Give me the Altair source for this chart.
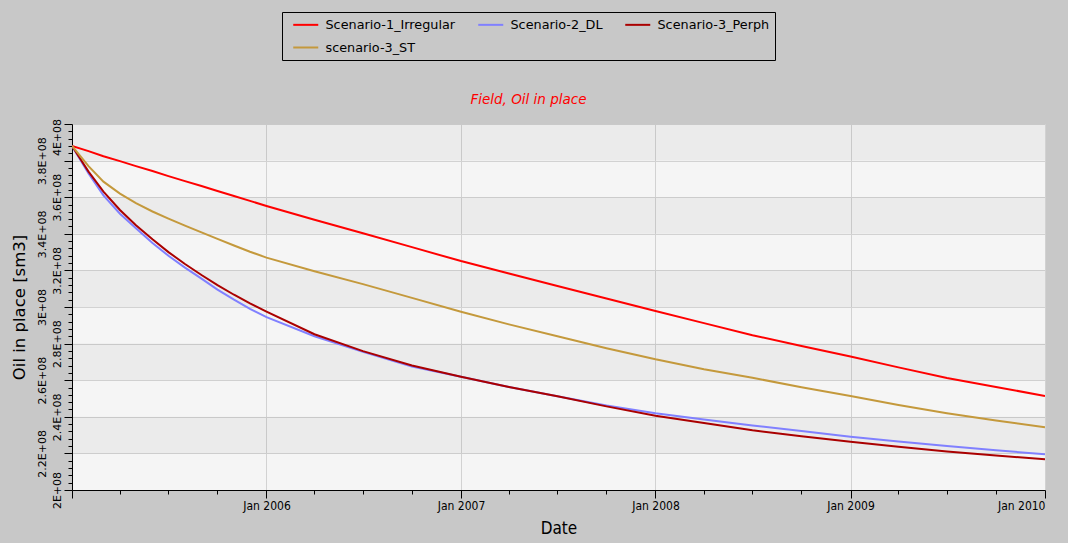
import altair as alt
import pandas as pd

# ---------------- data (values in millions of sm3) ----------------
dates = [
    "2005-01-01", "2005-02-01", "2005-03-01", "2005-04-01", "2005-05-01", "2005-06-01",
    "2005-07-01", "2005-08-01", "2005-09-01", "2005-10-01", "2005-11-01", "2005-12-01",
    "2006-01-01", "2006-04-01", "2006-07-01", "2006-10-01",
    "2007-01-01", "2007-04-01", "2007-07-01", "2007-10-01",
    "2008-01-01", "2008-04-01", "2008-07-01", "2008-10-01",
    "2009-01-01", "2009-04-01", "2009-07-01", "2009-10-01",
    "2010-01-01",
]
scenario_1_irregular = [388.0, 385.2, 382.4, 379.7, 377.0, 374.3, 371.5, 368.8, 366.1, 363.4, 360.7, 358.0,
                        355.2, 347.7, 340.3, 332.7, 325.1, 318.3, 311.5, 304.6, 297.8, 291.2, 284.6, 278.7,
                        272.9, 267.0, 261.2, 256.3, 251.4]
scenario_2_dl = [388.0, 373.0, 361.0, 351.0, 343.0, 335.0, 328.0, 321.5, 315.5, 309.5, 304.0, 299.0,
                 294.5, 284.0, 275.5, 267.5, 261.9, 256.3, 251.2, 246.2, 241.9, 238.5, 235.3, 232.2,
                 229.1, 226.5, 224.0, 221.7, 219.5]
scenario_3_perph = [388.0, 374.0, 363.0, 353.0, 344.7, 337.0, 330.0, 323.5, 317.5, 312.0, 306.7, 302.0,
                    297.5, 285.1, 275.9, 268.0, 261.9, 256.3, 251.2, 245.7, 240.6, 236.6, 232.6, 229.4,
                    226.4, 223.6, 221.0, 218.8, 216.8]
scenario_3_st = [388.0, 377.0, 368.5, 362.0, 356.8, 352.2, 348.3, 344.5, 340.8, 337.2, 333.6, 330.2,
                 327.0, 319.5, 312.5, 305.0, 297.4, 290.5, 284.0, 277.5, 271.4, 266.0, 261.3, 256.2,
                 251.4, 246.5, 242.0, 238.0, 234.3]

series_names = ["Scenario-1_Irregular", "Scenario-2_DL", "Scenario-3_Perph", "scenario-3_ST"]
series_colors = ["#ff0000", "#8080ff", "#aa0000", "#c4993c"]
series_values = [scenario_1_irregular, scenario_2_dl, scenario_3_perph, scenario_3_st]

y_major = [200000000, 220000000, 240000000, 260000000, 280000000, 300000000,
           320000000, 340000000, 360000000, 380000000, 400000000]
y_major_labels = ["2E+08", "2.2E+08", "2.4E+08", "2.6E+08", "2.8E+08", "3E+08",
                  "3.2E+08", "3.4E+08", "3.6E+08", "3.8E+08", "4E+08"]
y_ticks = list(range(200000000, 400000001, 4000000))

x_domain = ["2005-01-01", "2010-01-01"]
x_major_years = [2006, 2007, 2008, 2009, 2010]
x_major_labels = ["Jan 2006", "Jan 2007", "Jan 2008", "Jan 2009", "Jan 2010"]
x_ticks = [f"{y}-{m:02d}-01" for y in range(2005, 2010) for m in (1, 4, 7, 10)] + ["2010-01-01"]

band_lo = [220000000, 260000000, 300000000, 340000000, 380000000]
band_hi = [240000000, 280000000, 320000000, 360000000, 400000000]

# ---------------- tables ----------------
rows = []
for name, vals in zip(series_names, series_values):
    for d, v in zip(dates, vals):
        rows.append({"date": d, "value": v * 1e6, "series": name})
lines_df = pd.DataFrame(rows)

bands_df = pd.DataFrame({"lo": band_lo, "hi": band_hi, "x0": x_domain[0], "x1": x_domain[1]})

x_tick_ms = [int(pd.Timestamp(t, tz="UTC").timestamp() * 1000) for t in x_ticks]

y_label_expr = (
    f"indexof({y_major}, datum.value) >= 0 ? "
    f"{y_major_labels}[indexof({y_major}, datum.value)] : ''"
)
x_label_expr = (
    f"utcmonth(datum.value) == 0 && indexof({x_major_years}, utcyear(datum.value)) >= 0 ? "
    f"{x_major_labels}[indexof({x_major_years}, utcyear(datum.value))] : ''"
)

y_axis = alt.Axis(
    title="Oil in place [sm3]",
    values=y_ticks,
    labelExpr=y_label_expr,
    labelAngle=270,
    labelOverlap=False,
    labelFont="DejaVu Sans",
    labelFontSize=11,
    labelColor="black",
    labelOffset={"condition": {"test": f"datum.value == {y_major[-1]}", "value": 13}, "value": 0},
    tickSize={"condition": {"test": "datum.value % 20000000 == 0", "value": 8}, "value": 4},
    labelPadding={"condition": {"test": "(datum.value / 20000000) % 2 == 1", "value": 17}, "value": 2},
    gridOpacity={"condition": {"test": "datum.value % 20000000 == 0", "value": 1}, "value": 0},
    gridColor="#d2d2d2",
    domainColor="black",
    tickColor="black",
    titleFont="DejaVu Sans",
    titleFontSize=16.5,
    titleFontWeight="normal",
    titleColor="black",
    titlePadding=9,
)

x_axis = alt.Axis(
    title="Date",
    values=x_tick_ms,
    labelExpr=x_label_expr,
    labelAngle=0,
    labelOverlap=False,
    labelFont="DejaVu Sans Condensed, Liberation Sans Narrow, DejaVu Sans",
    labelFontSize=12,
    labelColor="black",
    tickSize={"condition": {"test": "utcmonth(datum.value) == 0", "value": 8}, "value": 4},
    gridOpacity={"condition": {"test": "utcmonth(datum.value) == 0", "value": 1}, "value": 0},
    gridColor="#d2d2d2",
    domainColor="black",
    tickColor="black",
    labelPadding=2,
    titleFont="DejaVu Sans Condensed, DejaVu Sans",
    titleFontSize=17,
    titleFontWeight="normal",
    titleColor="black",
    titlePadding=9,
)

x_scale = alt.Scale(type="utc", domain=x_domain)
y_scale = alt.Scale(domain=[200000000, 400000000], nice=False, zero=False)

bands = alt.Chart(bands_df).mark_rect(fill="black", opacity=0.04).encode(
    x=alt.X("x0:T", scale=x_scale, axis=x_axis),
    x2="x1:T",
    y=alt.Y("lo:Q", scale=y_scale, axis=y_axis),
    y2="hi:Q",
)

lines = alt.Chart(lines_df).mark_line(strokeWidth=2, clip=True).encode(
    x=alt.X("date:T", scale=x_scale, axis=x_axis),
    y=alt.Y("value:Q", scale=y_scale, axis=y_axis),
    color=alt.Color(
        "series:N",
        scale=alt.Scale(domain=series_names, range=series_colors),
        legend=alt.Legend(
            title=None,
            orient="none",
            legendX=210,
            legendY=-112,
            columns=3,
            direction="horizontal",
            symbolType="M-1,0H3",
            symbolSize=156.25,
            symbolStrokeWidth=2,
            symbolOffset=5,
            labelFont="DejaVu Sans",
            labelFontSize=12.8,
            labelColor="black",
            labelOffset=18.5,
            labelLimit=300,
            strokeColor="black",
            fillColor="#c8c8c8",
            padding=5,
            columnPadding=16,
            rowPadding=8,
        ),
    ),
)

chart = (
    alt.layer(bands, lines)
    .properties(
        width=973,
        height=366,
        background="#c8c8c8",
        padding={"left": 72, "top": 124, "right": 23, "bottom": 53},
        autosize=alt.AutoSizeParams(type="none"),
        title=alt.TitleParams(
            "Field, Oil in place",
            color="red",
            fontStyle="italic",
            fontWeight="normal",
            font="DejaVu Sans",
            fontSize=13.5,
            anchor="middle",
            frame="group",
            baseline="bottom",
            offset=-109,
            dx=-30,
        ),
    )
    .configure_view(fill="#f5f5f5", stroke=None)
)

chart.save("out.html", embed_options={"renderer": "svg", "actions": False})
